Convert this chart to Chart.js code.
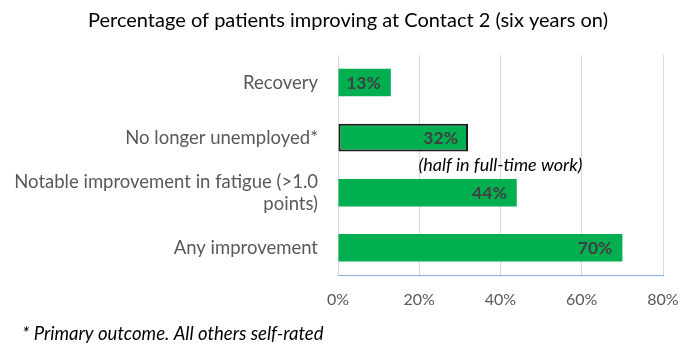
<!DOCTYPE html>
<html>
<head>
<meta charset="utf-8">
<script src="https://cdn.jsdelivr.net/npm/chart.js@4"></script>
<style>
  html, body { margin: 0; padding: 0; background: #fff; }
  #wrap { width: 695px; height: 354px; position: relative; }
</style>
</head>
<body>
<div id="wrap"><canvas id="outcomeChart"></canvas></div>
<script>
const categories = [
  "Recovery",
  "No longer unemployed*",
  ["Notable improvement in fatigue (>1.0", "points)"],
  "Any improvement"
];
const percentImproving = [13, 32, 44, 70];
const outlinedBar = [0, 2, 0, 0];
const tickValues = [0, 20, 40, 60, 80];
const titleText = "Percentage of patients improving at Contact 2 (six years on)";
const noteText = "(half in full-time work)";
const footnoteText = "* Primary outcome. All others self-rated";

const fontFamily = "Lato, 'Open Sans', sans-serif";

// title, footnote, value labels inside the bars and the note under the second bar
const chartText = {
  id: "chartText",
  afterDatasetsDraw(chart) {
    const ctx = chart.ctx;
    const bars = chart.getDatasetMeta(0).data;
    ctx.save();
    ctx.textBaseline = "middle";

    ctx.font = "20px " + fontFamily;
    ctx.fillStyle = "#000";
    ctx.textAlign = "center";
    ctx.fillText(titleText, 348, 21);

    ctx.font = "italic 18.5px " + fontFamily;
    ctx.textAlign = "left";
    ctx.fillText(footnoteText, 22, 334);

    ctx.font = "bold 17.5px " + fontFamily;
    ctx.fillStyle = "#404040";
    ctx.textAlign = "right";
    bars.forEach((bar, i) => {
      ctx.fillText(percentImproving[i] + "%", bar.x - 10, bar.y + 1);
    });

    ctx.font = "italic 18px " + fontFamily;
    ctx.fillStyle = "#000";
    ctx.textAlign = "center";
    const noteX = chart.scales.x.getPixelForValue(40);
    const noteY = (bars[1].y + bars[2].y) / 2;
    ctx.fillText(noteText, noteX, noteY);
    ctx.restore();
  }
};

new Chart(document.getElementById("outcomeChart"), {
  type: "bar",
  data: {
    labels: categories,
    datasets: [
      {
        data: percentImproving,
        backgroundColor: "#00B050",
        borderColor: "#1a1a1a",
        borderWidth: outlinedBar,
        borderSkipped: false,
        categoryPercentage: 1,
        barPercentage: 0.5
      }
    ]
  },
  options: {
    indexAxis: "y",
    responsive: true,
    maintainAspectRatio: false,
    animation: false,
    layout: {
      padding: { left: 0, right: 32, top: 55, bottom: 29.5 }
    },
    plugins: {
      legend: { display: false },
      tooltip: { enabled: false },
      title: { display: false }
    },
    scales: {
      x: {
        min: 0,
        max: 80,
        afterBuildTicks: scale => {
          scale.ticks = tickValues.map(v => ({ value: v }));
        },
        ticks: {
          color: "#595959",
          font: { family: fontFamily, size: 16, lineHeight: 1.2 },
          padding: 15,
          callback: value => value + "%"
        },
        grid: { color: "#d9d9d9", drawTicks: false },
        border: { color: "#8FAADC", width: 1 }
      },
      y: {
        afterFit: scale => {
          scale.width = 338;
        },
        ticks: {
          color: "#595959",
          font: { family: fontFamily, size: 18.5, lineHeight: 1.2 },
          padding: 20
        },
        grid: { display: false, drawTicks: false },
        border: { display: false }
      }
    }
  },
  plugins: [chartText]
});
</script>
</body>
</html>
